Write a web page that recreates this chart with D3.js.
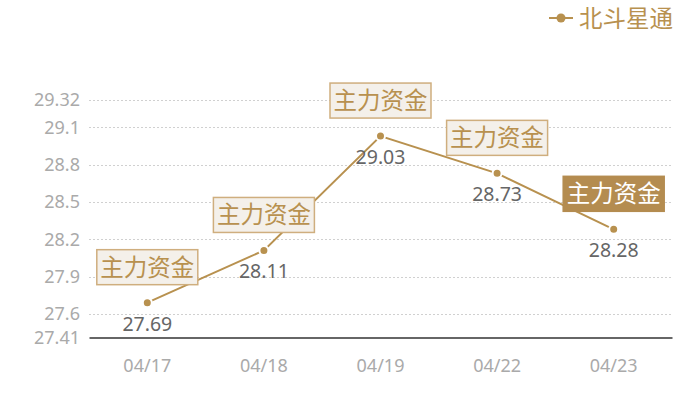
<!DOCTYPE html>
<html>
<head>
<meta charset="utf-8">
<script src="https://cdn.jsdelivr.net/npm/d3@7"></script>
<style>
  body { margin: 0; background: #fff; }
  text { font-family: "Noto Sans CJK SC", "Noto Sans", sans-serif; }
</style>
</head>
<body>
<div id="chart"></div>
<script>
// data
var dates = ["04/17", "04/18", "04/19", "04/22", "04/23"];
var prices = [27.69, 28.11, 29.03, 28.73, 28.28];
var yTicks = [27.41, 27.6, 27.9, 28.2, 28.5, 28.8, 29.1, 29.32];
var flagText = "主力资金";
var seriesName = "北斗星通";

// settings
var svgWidth = 700;
var svgHeight = 400;
var gold = "#b8914f";
var numFont = "'Noto Sans', 'Noto Sans CJK SC', sans-serif";
var margin = { top: 100, right: 28, bottom: 62.5, left: 89 };
var width = svgWidth - margin.left - margin.right;
var height = svgHeight - margin.top - margin.bottom;

var svg = d3.select("#chart").append("svg")
  .attr("width", svgWidth)
  .attr("height", svgHeight);

var chartGroup = svg.append("g")
  .attr("transform", `translate(${margin.left}, ${margin.top})`);

var x = d3.scaleBand().domain(dates).range([0, width]);
var y = d3.scaleLinear().domain([yTicks[0], yTicks[yTicks.length - 1]]).range([height, 0]);
var cx = d => x(d) + x.bandwidth() / 2;

// grid lines
chartGroup.selectAll(".grid")
  .data(yTicks.slice(1))
  .enter().append("line")
  .attr("x1", 0).attr("x2", width)
  .attr("y1", d => Math.round(y(d)) + 0.5).attr("y2", d => Math.round(y(d)) + 0.5)
  .attr("stroke", "#d0d0d0")
  .attr("stroke-dasharray", "2,2");

// y axis labels
var leftAxis = d3.axisLeft(y).tickValues(yTicks).tickSize(0).tickPadding(9).tickFormat(d => d);
chartGroup.append("g").call(leftAxis)
  .call(g => g.select(".domain").remove())
  .call(g => g.selectAll("text").attr("fill", "#aaa").attr("font-size", "18px")
    .style("font-family", numFont));

// x axis
var bottomAxis = d3.axisBottom(x).tickSize(0).tickPadding(22);
chartGroup.append("g")
  .attr("transform", `translate(0, ${height})`)
  .call(bottomAxis)
  .call(g => g.select(".domain").attr("stroke", "#333").attr("stroke-width", 1.3))
  .call(g => g.selectAll("text").attr("fill", "#aaa").attr("font-size", "18px")
    .style("font-family", numFont));

// line
var line = d3.line().x((d, i) => cx(dates[i])).y(d => y(d));
chartGroup.append("path")
  .datum(prices)
  .attr("d", line)
  .attr("fill", "none")
  .attr("stroke", gold)
  .attr("stroke-width", 2);

// points
chartGroup.selectAll(".pt")
  .data(prices)
  .enter().append("circle")
  .attr("cx", (d, i) => cx(dates[i]))
  .attr("cy", d => y(d))
  .attr("r", 4.5)
  .attr("fill", gold)
  .attr("stroke", "#fff")
  .attr("stroke-width", 2);

// value labels
chartGroup.selectAll(".val")
  .data(prices)
  .enter().append("text")
  .attr("x", (d, i) => cx(dates[i]))
  .attr("y", d => y(d) + 28)
  .attr("text-anchor", "middle")
  .attr("font-size", "19.5px")
  .style("font-family", numFont)
  .attr("fill", "#666")
  .text(d => d.toFixed(2));

// flag boxes
var flags = chartGroup.selectAll(".flag")
  .data(prices)
  .enter().append("g")
  .attr("transform", (d, i) => `translate(${cx(dates[i])}, ${y(d) - 18})`);

flags.append("rect")
  .attr("x", -50.5).attr("y", -35)
  .attr("width", 101).attr("height", 35)
  .attr("fill", (d, i) => i === prices.length - 1 ? "#b48c50" : "#f4f0ea")
  .attr("stroke", (d, i) => i === prices.length - 1 ? "#b48c50" : "#cfae7e")
  .attr("stroke-width", 1.5);

flags.append("text")
  .attr("x", 0).attr("y", -9)
  .attr("text-anchor", "middle")
  .attr("font-size", "23.5px")
  .attr("fill", (d, i) => i === prices.length - 1 ? "#fff" : gold)
  .text(flagText);

// legend
var legend = svg.append("g").attr("transform", "translate(549, 18)");
legend.append("line").attr("x1", 0).attr("x2", 24).attr("stroke", gold).attr("stroke-width", 2);
legend.append("circle").attr("cx", 12).attr("r", 4.5).attr("fill", gold);
legend.append("text")
  .attr("x", 30).attr("y", 8.5)
  .attr("font-size", "23.5px")
  .attr("fill", gold)
  .text(seriesName);
</script>
</body>
</html>
